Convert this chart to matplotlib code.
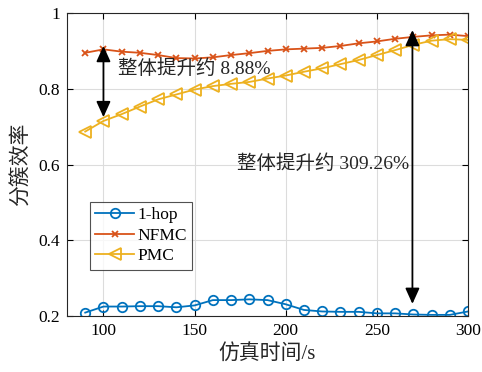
import matplotlib
matplotlib.use("Agg")
import matplotlib.pyplot as plt

x = [90, 100, 110, 120, 130, 140, 150, 160, 170, 180, 190, 200,
     210, 220, 230, 240, 250, 260, 270, 280, 290, 300]
hop1 = [0.209, 0.225, 0.225, 0.226, 0.226, 0.223, 0.228, 0.242, 0.242, 0.244, 0.242, 0.231,
        0.216, 0.212, 0.211, 0.211, 0.207, 0.207, 0.204, 0.203, 0.203, 0.212]
nfmc = [0.895, 0.904, 0.898, 0.895, 0.889, 0.881, 0.880, 0.883, 0.889, 0.894, 0.900, 0.904,
        0.906, 0.908, 0.913, 0.920, 0.925, 0.932, 0.937, 0.941, 0.943, 0.939]
pmc = [0.687, 0.715, 0.733, 0.753, 0.772, 0.785, 0.798, 0.807, 0.813, 0.818, 0.827, 0.835,
       0.845, 0.854, 0.865, 0.876, 0.889, 0.902, 0.916, 0.927, 0.931, 0.929]
labels = ["1-hop", "NFMC", "PMC"]
xticks = [100, 150, 200, 250, 300]
yticks = [0.2, 0.4, 0.6, 0.8, 1.0]
ytick_labels = ["0.2", "0.4", "0.6", "0.8", "1"]
ann1 = "整体提升约 8.88%"
ann2 = "整体提升约 309.26%"

FONT = ["Liberation Serif", "Noto Sans CJK SC"]
plt.rcParams["font.family"] = FONT

fig = plt.figure(figsize=(4.82, 3.72), dpi=100)
ax = fig.add_axes([0.139, 0.1505, 0.832, 0.8145])

c1, c2, c3 = "#0072BD", "#D95319", "#EDB120"
ax.plot(x, hop1, color=c1, marker="o", markersize=6.8, markerfacecolor="none",
        markeredgewidth=1.3, linewidth=1.3, label=labels[0])
ax.plot(x, nfmc, color=c2, marker="x", markersize=5, markeredgewidth=1.3,
        linewidth=1.3, label=labels[1])
ax.plot(x, pmc, color=c3, marker="<", markersize=8, markerfacecolor="none",
        markeredgewidth=1.3, linewidth=1.3, label=labels[2])

ax.set_xlim(80, 300)
ax.set_ylim(0.2, 1.0)
ax.set_xticks(xticks)
ax.set_yticks(yticks)
ax.set_yticklabels(ytick_labels)
ax.grid(True, color="#dcdcdc", linewidth=0.8)
ax.set_axisbelow(True)
ax.tick_params(direction="in", top=True, right=True, labelsize=12.5, length=4, width=0.8, pad=5)
for s in ax.spines.values():
    s.set_linewidth(0.8)
    s.set_color("#262626")

ax.set_xlabel("仿真时间/s", fontsize=15, labelpad=4, color="#262626")
ax.set_ylabel("分簇效率", fontsize=15, labelpad=5, color="#262626")

arrow = dict(arrowstyle="<|-|>,head_length=0.95,head_width=0.43", color="black",
             lw=1.3, shrinkA=0, shrinkB=0, mutation_scale=10)
ax.annotate("", xy=(100, 0.913), xytext=(100, 0.725), arrowprops=arrow)
ax.annotate("", xy=(269.5, 0.955), xytext=(269.5, 0.232), arrowprops=arrow)

ax.text(108, 0.852, ann1, fontsize=14, va="center", ha="left", color="#262626")
ax.text(173, 0.601, ann2, fontsize=14, va="center", ha="left", color="#262626")

leg = ax.legend(loc="upper left", bbox_to_anchor=(0.058, 0.376), fontsize=12.5,
                frameon=True, fancybox=False, edgecolor="#262626", borderpad=0.3,
                handlelength=2.2, handletextpad=0.2, labelspacing=0.25, borderaxespad=0)
leg.get_frame().set_linewidth(0.8)

fig.savefig("out.png", dpi=100)
